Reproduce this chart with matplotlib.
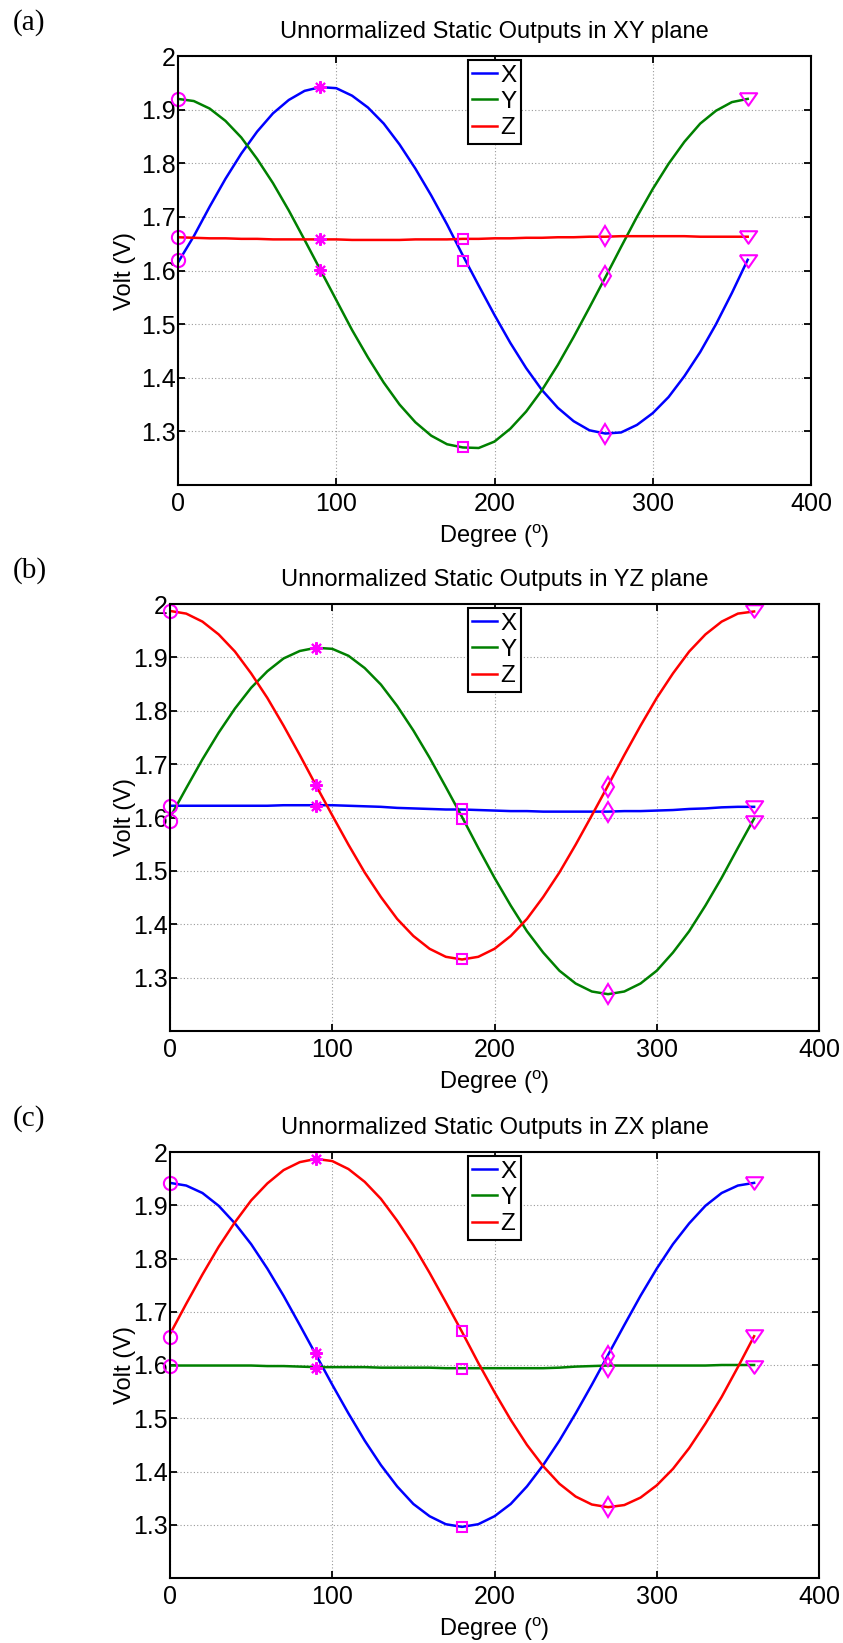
import matplotlib
matplotlib.use("Agg")
import matplotlib.pyplot as plt

plt.rcParams["font.family"] = ["Liberation Sans", "DejaVu Sans"]
plt.rcParams["mathtext.default"] = "regular"

# Sample angles (degrees) of the measured curves and of the marked positions
deg = list(range(0, 361, 10))
marker_deg = [0, 90, 180, 270, 360]

# ---- XY plane ----
xy_x = [1.615, 1.664, 1.719, 1.771, 1.818, 1.859, 1.893, 1.918, 1.935, 1.942,
        1.940, 1.926, 1.904, 1.874, 1.835, 1.790, 1.740, 1.686, 1.628, 1.572,
        1.517, 1.465, 1.418, 1.377, 1.344, 1.319, 1.302, 1.296, 1.298, 1.312,
        1.334, 1.364, 1.403, 1.448, 1.500, 1.558, 1.620]
xy_y = [1.920, 1.916, 1.902, 1.879, 1.848, 1.808, 1.763, 1.712, 1.657, 1.601,
        1.545, 1.489, 1.438, 1.391, 1.350, 1.317, 1.292, 1.276, 1.270, 1.269,
        1.281, 1.305, 1.337, 1.377, 1.424, 1.476, 1.531, 1.587, 1.644, 1.700,
        1.752, 1.799, 1.840, 1.874, 1.898, 1.914, 1.920]
xy_z = [1.662, 1.661, 1.660, 1.660, 1.659, 1.659, 1.658, 1.658, 1.658, 1.658,
        1.658, 1.657, 1.657, 1.657, 1.657, 1.658, 1.658, 1.658, 1.659, 1.659,
        1.660, 1.660, 1.661, 1.661, 1.662, 1.662, 1.663, 1.663, 1.664, 1.664,
        1.664, 1.664, 1.664, 1.663, 1.663, 1.663, 1.663]
xy_x_pts = [1.619, 1.942, 1.618, 1.296, 1.618]
xy_y_pts = [1.920, 1.601, 1.270, 1.590, 1.920]
xy_z_pts = [1.662, 1.658, 1.659, 1.664, 1.663]

# ---- YZ plane ----
yz_x = [1.622, 1.622, 1.622, 1.622, 1.622, 1.622, 1.622, 1.623, 1.623, 1.623,
        1.623, 1.622, 1.621, 1.620, 1.618, 1.617, 1.616, 1.615, 1.615, 1.614,
        1.613, 1.612, 1.612, 1.611, 1.611, 1.611, 1.611, 1.611, 1.612, 1.612,
        1.613, 1.614, 1.616, 1.617, 1.619, 1.620, 1.620]
yz_y = [1.600, 1.655, 1.709, 1.759, 1.804, 1.843, 1.874, 1.898, 1.912, 1.918,
        1.916, 1.903, 1.880, 1.849, 1.809, 1.763, 1.712, 1.657, 1.601, 1.543,
        1.487, 1.435, 1.387, 1.347, 1.313, 1.289, 1.274, 1.269, 1.274, 1.289,
        1.313, 1.347, 1.387, 1.435, 1.487, 1.543, 1.598]
yz_z = [1.987, 1.982, 1.967, 1.943, 1.911, 1.870, 1.824, 1.772, 1.717, 1.660,
        1.604, 1.549, 1.497, 1.451, 1.410, 1.378, 1.354, 1.339, 1.334, 1.339,
        1.354, 1.378, 1.410, 1.451, 1.497, 1.549, 1.604, 1.660, 1.717, 1.772,
        1.824, 1.870, 1.911, 1.943, 1.967, 1.982, 1.986]
yz_x_pts = [1.621, 1.622, 1.615, 1.611, 1.620]
yz_y_pts = [1.593, 1.918, 1.597, 1.269, 1.592]
yz_z_pts = [1.987, 1.661, 1.334, 1.658, 1.986]

# ---- ZX plane ----
zx_x = [1.942, 1.937, 1.923, 1.899, 1.866, 1.827, 1.781, 1.730, 1.675, 1.619,
        1.563, 1.509, 1.458, 1.412, 1.372, 1.339, 1.316, 1.301, 1.296, 1.301,
        1.316, 1.339, 1.372, 1.412, 1.458, 1.509, 1.563, 1.619, 1.675, 1.730,
        1.781, 1.827, 1.866, 1.899, 1.923, 1.937, 1.942]
zx_y = [1.599, 1.599, 1.599, 1.599, 1.599, 1.599, 1.598, 1.598, 1.597, 1.596,
        1.596, 1.596, 1.596, 1.595, 1.595, 1.595, 1.595, 1.594, 1.594, 1.594,
        1.594, 1.594, 1.594, 1.594, 1.595, 1.597, 1.598, 1.599, 1.599, 1.599,
        1.599, 1.599, 1.599, 1.599, 1.600, 1.600, 1.600]
zx_z = [1.658, 1.715, 1.770, 1.822, 1.868, 1.909, 1.941, 1.966, 1.981, 1.987,
        1.983, 1.968, 1.944, 1.912, 1.871, 1.825, 1.773, 1.718, 1.662, 1.604,
        1.549, 1.497, 1.450, 1.410, 1.377, 1.353, 1.338, 1.333, 1.337, 1.351,
        1.374, 1.405, 1.444, 1.490, 1.540, 1.596, 1.654]
zx_x_pts = [1.942, 1.623, 1.295, 1.617, 1.941]
zx_y_pts = [1.598, 1.594, 1.593, 1.596, 1.596]
zx_z_pts = [1.653, 1.987, 1.663, 1.334, 1.654]

series_names = ["X", "Y", "Z"]
series_colors = ["#0000ff", "#008000", "#ff0000"]
titles = ["Unnormalized Static Outputs in XY plane",
          "Unnormalized Static Outputs in YZ plane",
          "Unnormalized Static Outputs in ZX plane"]
panel_tags = ["(a)", "(b)", "(c)"]
panel_curves = [(xy_x, xy_y, xy_z), (yz_x, yz_y, yz_z), (zx_x, zx_y, zx_z)]
panel_points = [(xy_x_pts, xy_y_pts, xy_z_pts),
                (yz_x_pts, yz_y_pts, yz_z_pts),
                (zx_x_pts, zx_y_pts, zx_z_pts)]
yticks = [1.3, 1.4, 1.5, 1.6, 1.7, 1.8, 1.9, 2.0]
ytick_labels = ["1.3", "1.4", "1.5", "1.6", "1.7", "1.8", "1.9", "2"]
xticks = [0, 100, 200, 300, 400]

# Marker shape for each marked angle: circle, asterisk, square, diamond, down-triangle
tri_down = [(-1, 0.72), (1, 0.72), (0, -0.72), (-1, 0.72)]
marker_styles = [("o", 9.5), ((8, 2, 0), 9), ("s", 7), ("d", 10.5), (tri_down, 12.5)]

W, H = 843, 1643
fig = plt.figure(figsize=(W / 100, H / 100), dpi=100)

# axes boxes in pixels: left, right, top, bottom
boxes = [(178, 811, 56, 485), (170, 819, 604, 1031), (170, 819, 1152, 1578)]

for i, (l, r, t, b) in enumerate(boxes):
    ax = fig.add_axes([l / W, (H - b) / H, (r - l) / W, (b - t) / H])
    for vals, name, col in zip(panel_curves[i], series_names, series_colors):
        ax.plot(deg, vals, color=col, lw=1.8, label=name, zorder=3,
                solid_joinstyle="round")
    for pts in panel_points[i]:
        for d, v, (mk, ms) in zip(marker_deg, pts, marker_styles):
            ax.plot([d], [v], ls="none", marker=mk, ms=ms, mfc="none",
                    mec="#ff00ff", mew=1.5, zorder=4, clip_on=False)
    ax.set_xlim(0, 400)
    ax.set_ylim(1.2, 2.0)
    ax.set_xticks(xticks)
    ax.set_yticks(yticks)
    ax.set_yticklabels(ytick_labels)
    ax.grid(True, linestyle=(0, (1, 2)), color="#9a9a9a", linewidth=0.8)
    ax.tick_params(direction="in", top=True, right=True, length=5, width=1.3,
                   labelsize=18, colors="black")
    ax.tick_params(axis="y", pad=1.5)
    ax.tick_params(axis="x", pad=5)
    for sp in ax.spines.values():
        sp.set_linewidth(1.5)
        sp.set_zorder(5)
    ax.set_title(titles[i], fontsize=17, pad=13)
    ax.set_xlabel("Degree ($^{o}$)", fontsize=17, labelpad=5)
    ax.set_ylabel("Volt (V)", fontsize=17)
    ax.yaxis.set_label_coords(-(l - 136) / (r - l), 0.5)
    leg = ax.legend(loc="upper center", fontsize=17.5, handlelength=1.0,
                    handletextpad=0.15, labelspacing=0.18, borderpad=0.2,
                    borderaxespad=0.15, fancybox=False, framealpha=1,
                    edgecolor="black")
    leg.get_frame().set_linewidth(1.5)
    leg.set_zorder(6)
    fig.text(13 / W, 1 - (t - 33) / H, panel_tags[i], fontsize=21,
             family=["Liberation Serif", "DejaVu Serif"], ha="left", va="center")

fig.savefig("out.png", dpi=100)
